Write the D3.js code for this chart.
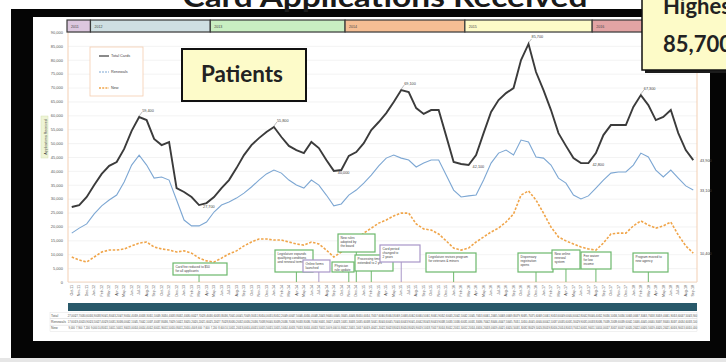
<!DOCTYPE html>
<html>
<head>
<meta charset="utf-8">
<script src="https://cdn.jsdelivr.net/npm/d3@7"></script>
<style>
body { margin: 0; background: #fff; }
svg { display: block; font-family: 'Liberation Sans', Arial, sans-serif; }
</style>
</head>
<body>
<div id="chart"></div>
<script>
const WIDTH = 726, HEIGHT = 362;

// monthly data
const months = ['Oct-11','Nov-11','Dec-11',
	'Jan-12','Feb-12','Mar-12','Apr-12','May-12','Jun-12','Jul-12','Aug-12','Sep-12','Oct-12','Nov-12','Dec-12',
	'Jan-13','Feb-13','Mar-13','Apr-13','May-13','Jun-13','Jul-13','Aug-13','Sep-13','Oct-13','Nov-13','Dec-13',
	'Jan-14','Feb-14','Mar-14','Apr-14','May-14','Jun-14','Jul-14','Aug-14','Sep-14','Oct-14','Nov-14','Dec-14',
	'Jan-15','Feb-15','Mar-15','Apr-15','May-15','Jun-15','Jul-15','Aug-15','Sep-15','Oct-15','Nov-15','Dec-15',
	'Jan-16','Feb-16','Mar-16','Apr-16','May-16','Jun-16','Jul-16','Aug-16','Sep-16','Oct-16','Nov-16','Dec-16',
	'Jan-17','Feb-17','Mar-17','Apr-17','May-17','Jun-17','Jul-17','Aug-17','Sep-17','Oct-17','Nov-17','Dec-17',
	'Jan-18','Feb-18','Mar-18','Apr-18','May-18','Jun-18','Jul-18','Aug-18','Sep-18'];

const total = [27000,27700,30600,34900,38900,41800,43200,47900,54400,59400,
	58300,51500,49300,50400,33800,32400,30600,27700,28400,30600,
	33800,36700,41000,45700,49300,51800,54000,55800,52200,49000,
	47500,46400,50400,48200,43900,40000,40300,45400,46800,50000,
	54700,57600,60800,64800,69100,68400,62600,60500,61900,61900,
	52600,43200,42500,42100,45700,53600,61200,65500,68000,69800,
	79900,85700,75600,69100,61900,53600,49000,44600,42800,42800,
	46400,52900,56500,56500,56500,63000,67300,63700,58300,59400,
	61900,53600,47500,43900];

const renewals = [17600,19400,20900,24500,27400,29500,31300,36000,42100,45700,
	42100,37400,37800,36700,29500,22300,20200,20200,21600,25200,
	27700,28800,30200,32000,34200,36700,38900,40300,39200,36700,
	34900,33800,36700,34900,31300,27400,28100,31300,33100,35600,
	38500,41800,44600,45700,44600,43900,41400,42800,43900,43900,
	38500,33100,30600,31000,31300,36700,42800,46400,47500,45700,
	51100,50400,45000,44600,42100,37400,35600,31300,29900,31000,
	33800,36700,39200,39600,39600,42100,46400,45000,40300,37800,
	40300,37400,34600,33100];

const newCards = [9000,7900,7200,9000,10800,11500,11500,11900,13000,14000,
	14400,12600,11900,11500,10800,11200,10400,8600,7600,7200,
	8600,10100,11200,13000,14400,15500,15500,15100,15100,14400,
	13700,13300,14400,13700,11500,9000,10800,12200,15100,17600,
	19400,21200,22300,23800,24800,24800,20900,19100,18700,17300,
	14800,12200,11500,12200,14400,16200,18000,19400,21600,24500,
	31300,32800,29500,24800,19800,16200,14800,13700,12600,11900,
	11500,14000,17300,17600,17600,20200,22000,20500,19400,20200,
	21600,16900,13000,10400];

const seriesNames = ['Total Cards', 'Renewals', 'New'];

// periods along the top (first and last month index)
const periodNames = ['2011', '2012', '2013', '2014', '2015', '2016'];
const periodFirst = [0, 3, 19, 37, 53, 70];
const periodLast = [2, 18, 36, 52, 69, 83];
const periodColors = ['#dcc7df', '#cfdfe2', '#c9efc2', '#f5be94', '#fdfbc8', '#e2a4a4'];

// notes attached to a month
const noteMonth = [17, 30, 33, 37, 38, 40, 44, 51, 62, 66, 70, 77];
const noteText = [
	'Card fee reduced to $50\nfor all applicants',
	'Legislature expands\nqualifying conditions\nand renewal terms',
	'Online forms\nlaunched',
	'Physician\nrule update',
	'New rules\nadopted by\nthe board',
	'Processing time\nextended to 2 yrs',
	'Card period\nchanged to\n2 years',
	'Legislature revises program\nfor veterans & minors',
	'Dispensary\nregistration\nopens',
	'New online\nrenewal\nsystem',
	'Fee waiver\nfor low\nincome',
	'Program moved to\nnew agency'
];
const noteKind = ['g','g','p','g','g','g','p','g','g','g','g','g'];
// box layout for each note: left, top, width, height
const noteBox = [[173,263,54,12],[275,250,38,22],[303,260,27,12],[332,262,22,10],[338,234,37,18],
	[355,255,38,16],[380,245,40,17],[426,253,50,19],[518,253,35,19],[552,250,28,19],[581,252,30,17],[633,253,35,19]];

//setup svg
let svg = d3.select('#chart')
	.append('svg')
	.attr('width', WIDTH)
	.attr('height', HEIGHT);

svg.append('rect').attr('width', WIDTH).attr('height', HEIGHT).attr('fill', '#fff');
svg.append('rect').attr('x', 0).attr('y', 358).attr('width', WIDTH).attr('height', 4).attr('fill', '#e6e6e6');

// black frame
svg.append('rect').attr('x', 11).attr('y', 9).attr('width', 730).attr('height', 349).attr('fill', '#050505');
svg.append('rect').attr('x', 33).attr('y', 17).attr('width', 677).attr('height', 324).attr('fill', '#fff');

svg.append('text')
	.attr('x', 385).attr('y', 7)
	.attr('text-anchor', 'middle')
	.attr('font-family', 'Lato, sans-serif')
	.attr('font-weight', 'bold')
	.attr('font-size', 29)
	.attr('textLength', 405)
	.attr('lengthAdjust', 'spacingAndGlyphs')
	.attr('fill', '#1a1a1a')
	.text('Card Applications Received');

// scales
const x = d3.scaleBand().domain(d3.range(months.length)).range([68, 697]);
const cx = i => x(i) + x.bandwidth() / 2;
const y = d3.scaleLinear().domain([0, 90000]).range([282, 32]);

// gridlines + y axis
svg.append('g')
	.attr('transform', 'translate(68,0)')
	.call(d3.axisLeft(y).tickValues(d3.range(0, 90001, 5000)).tickSize(-629).tickFormat(d3.format(',')))
	.call(g => g.select('.domain').remove())
	.call(g => g.selectAll('line').attr('stroke', '#ebebeb').attr('stroke-width', 0.6))
	.call(g => g.selectAll('text').attr('font-size', 4).attr('fill', '#555').attr('x', -5));

svg.append('line').attr('x1', 68).attr('x2', 68).attr('y1', 32).attr('y2', 282).attr('stroke', '#f3cfb3').attr('stroke-width', 1);
svg.append('line').attr('x1', 697).attr('x2', 697).attr('y1', 32).attr('y2', 282).attr('stroke', '#f3cfb3').attr('stroke-width', 1);
svg.append('line').attr('x1', 68).attr('x2', 697).attr('y1', 282).attr('y2', 282).attr('stroke', '#f3cfb3').attr('stroke-width', 0.8);

// y title
let yt = svg.append('g').attr('transform', 'translate(45,137) rotate(-90)');
yt.append('rect').attr('x', -21).attr('y', -4).attr('width', 42).attr('height', 7).attr('fill', '#eef4d6').attr('stroke', '#d6e2b5').attr('stroke-width', 0.5);
yt.append('text').attr('text-anchor', 'middle').attr('y', 1.5).attr('font-size', 3.6).attr('fill', '#444').text('Applications Received');

// period bar
let per = svg.append('g');
periodNames.forEach((p, k) => {
	let x0 = x(periodFirst[k]);
	let x1 = Math.min(x(periodLast[k]) + x.bandwidth(), 697);
	if (k == 0) x0 = 67;
	per.append('rect')
		.attr('x', x0).attr('y', 20).attr('width', x1 - x0).attr('height', 12)
		.attr('fill', periodColors[k]).attr('stroke', '#3a3a3a').attr('stroke-width', 1.2);
	per.append('text').attr('x', x0 + 4).attr('y', 27.5).attr('font-size', 3.6).attr('fill', '#444').text(p);
});

// lines
const line = d3.line().x((d, i) => cx(i)).y(d => y(d));
svg.append('path').datum(newCards).attr('d', line).attr('fill', 'none')
	.attr('stroke', '#f0a54a').attr('stroke-width', 1.6).attr('stroke-dasharray', '2.5,1.6');
svg.append('path').datum(renewals).attr('d', line).attr('fill', 'none')
	.attr('stroke', '#7da7d3').attr('stroke-width', 1.1);
svg.append('path').datum(total).attr('d', line).attr('fill', 'none')
	.attr('stroke', '#3b3b3b').attr('stroke-width', 1.9);

// point labels on total
const fmt = d3.format(',');
const peaks = [9, 27, 44, 61, 76];
const troughs = [17, 35, 53, 69];
peaks.forEach(i => {
	svg.append('line').attr('x1', cx(i)).attr('x2', cx(i) + 3).attr('y1', y(total[i]) - 1).attr('y2', y(total[i]) - 5).attr('stroke', '#555').attr('stroke-width', 0.4);
	svg.append('text').attr('x', cx(i) + 3).attr('y', y(total[i]) - 5.5).attr('font-size', 3.8).attr('fill', '#444').text(fmt(total[i]));
});
troughs.forEach(i => {
	svg.append('text').attr('x', cx(i) + 4).attr('y', y(total[i]) + 3).attr('font-size', 3.8).attr('fill', '#444').text(fmt(total[i]));
});
const last = months.length - 1;
[total, renewals, newCards].forEach(s => {
	svg.append('text').attr('x', 700).attr('y', y(s[last]) + 1.5).attr('font-size', 3.8).attr('fill', '#444').text(fmt(s[last]));
});

// legend
let lg = svg.append('g');
lg.append('rect').attr('x', 90).attr('y', 47).attr('width', 53).attr('height', 49).attr('fill', '#fff').attr('stroke', '#f4cdb0').attr('stroke-width', 0.8);
const legendStyle = [['#3b3b3b', null, 1.2], ['#7da7d3', '2,1', 1], ['#f0a54a', '2,1.2', 1.3]];
seriesNames.forEach((n, k) => {
	let ly = 56 + k * 16;
	lg.append('line').attr('x1', 99).attr('x2', 109).attr('y1', ly).attr('y2', ly)
		.attr('stroke', legendStyle[k][0]).attr('stroke-width', legendStyle[k][2]).attr('stroke-dasharray', legendStyle[k][1]);
	lg.append('text').attr('x', 111).attr('y', ly + 1.3).attr('font-size', 3.8).attr('fill', '#444').text(n);
});

// Patients box
svg.append('rect').attr('x', 182).attr('y', 49).attr('width', 124).attr('height', 52).attr('fill', '#fdfbc9').attr('stroke', '#111').attr('stroke-width', 2);
svg.append('text').attr('x', 242).attr('y', 82).attr('text-anchor', 'middle')
	.attr('font-family', 'Lato, sans-serif').attr('font-weight', 'bold').attr('font-size', 22)
	.attr('textLength', 82).attr('lengthAdjust', 'spacingAndGlyphs')
	.attr('fill', '#222').text('Patients');

// notes
noteMonth.forEach((m, k) => {
	let b = noteBox[k];
	let col = noteKind[k] == 'p' ? '#a896c8' : '#6cb86c';
	svg.append('line').attr('x1', cx(m)).attr('x2', cx(m)).attr('y1', b[1] + b[3]).attr('y2', 282).attr('stroke', col).attr('stroke-width', 1);
	svg.append('rect').attr('x', b[0]).attr('y', b[1]).attr('width', b[2]).attr('height', b[3])
		.attr('fill', '#fff').attr('stroke', col).attr('stroke-width', 1.2);
	noteText[k].split('\n').forEach((t, j) => {
		svg.append('text').attr('x', b[0] + 2.5).attr('y', b[1] + 5 + j * 4.2).attr('font-size', 3.2).attr('fill', '#444').text(t);
	});
});

// x labels
svg.append('g').selectAll('text').data(months).join('text')
	.attr('transform', (d, i) => `translate(${cx(i) + 1.2},285) rotate(-90)`)
	.attr('text-anchor', 'end')
	.attr('font-size', 3.6)
	.attr('fill', '#555')
	.text(d => d);

// teal bar
svg.append('rect').attr('x', 68).attr('y', 303).attr('width', 629).attr('height', 8).attr('fill', '#29596a');

// table
const rows = [total, renewals, newCards];
const rowNames = ['Total', 'Renewals', 'New'];
let tb = svg.append('g');
rows.forEach((r, k) => {
	let ty = 312.5 + k * 6.3;
	tb.append('rect').attr('x', 50).attr('y', ty).attr('width', 647).attr('height', 6.3).attr('fill', 'none').attr('stroke', '#ddd').attr('stroke-width', 0.4);
	tb.append('text').attr('x', 51).attr('y', ty + 4.3).attr('font-size', 3.4).attr('fill', '#555').text(rowNames[k]);
	r.forEach((v, i) => {
		tb.append('text').attr('x', cx(i)).attr('y', ty + 4.3).attr('text-anchor', 'middle')
			.attr('font-size', 2.6).attr('fill', '#555').text(fmt(v));
	});
});

// highest month callout
let co = svg.append('g');
co.append('rect').attr('x', 645).attr('y', -10).attr('width', 100).attr('height', 83).attr('fill', '#1c1c1c');
co.append('rect').attr('x', 642).attr('y', -10).attr('width', 100).attr('height', 80).attr('fill', '#fdfbc8').attr('stroke', '#111').attr('stroke-width', 1.5);
co.append('text').attr('x', 663).attr('y', 14).attr('font-family', 'Lato, sans-serif').attr('font-weight', 'bold').attr('font-size', 22).attr('fill', '#222').text('Highest Month:');
co.append('text').attr('x', 663).attr('y', 52).attr('font-family', 'Lato, sans-serif').attr('font-weight', 'bold').attr('font-size', 22).attr('fill', '#222').text(fmt(d3.max(total)));
</script>
</body>
</html>
